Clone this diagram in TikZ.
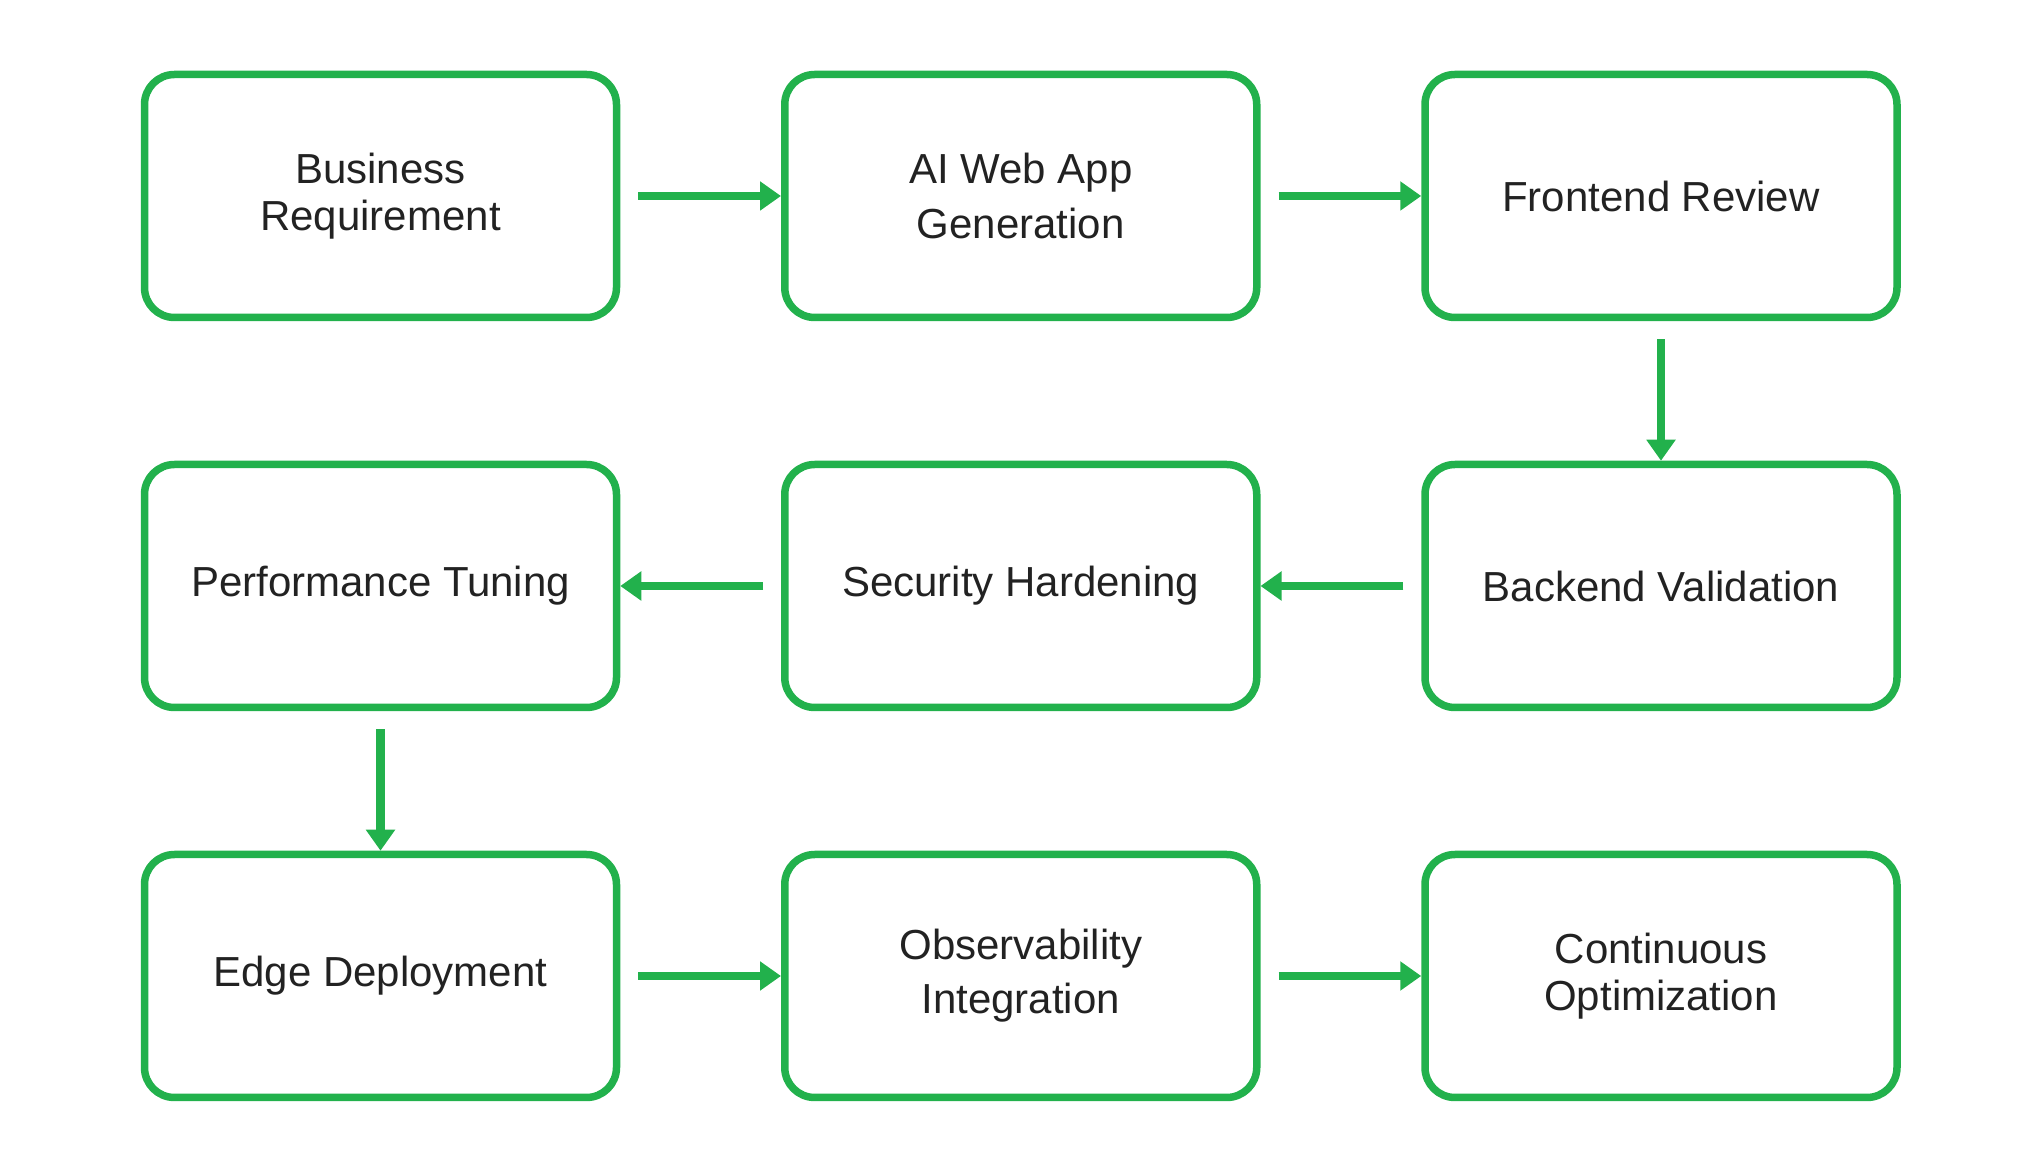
\documentclass[tikz,border=0pt]{standalone}
\usepackage{fontspec}
\setmainfont{Liberation Sans}
\usepackage{xcolor}
\usepackage{tikz}
\usetikzlibrary{arrows.meta, positioning}

\definecolor{flowgreen}{RGB}{34,177,76}
\definecolor{textgray}{RGB}{34,34,34}

\begin{document}
\begin{tikzpicture}[
    node distance=2.79cm and 3.215cm,
    block/.style={rectangle, draw=flowgreen, line width=0.15cm, rounded corners=0.6cm, minimum width=9.44cm, minimum height=4.86cm, align=center, text=textgray, font=\fontsize{23.9}{26.5}\selectfont},
    spaced/.style={font=\fontsize{23.9}{30.8}\selectfont},
    arrow/.style={-{Triangle[length=0.42cm, width=0.56cm]}, line width=0.165cm, draw=flowgreen, shorten <=0.36cm}
]
\useasboundingbox (0,0) rectangle (40.8,23.4);

% Row 1 (left to right)
\node[block] (req) at (7.61,19.48) {Business\\Requirement};
\node[block, spaced, right=of req] (gen) {AI Web App\\Generation};
\node[block, right=of gen] (front) {Frontend Review};

% Row 2 (right to left)
\node[block, below=of front] (back) {Backend Validation};
\node[block, left=of back] (sec) {Security Hardening};
\node[block, left=of sec] (perf) {Performance Tuning};

% Row 3 (left to right)
\node[block, below=of perf] (edge) {Edge Deployment};
\node[block, spaced, right=of edge] (obs) {Observability\\Integration};
\node[block, right=of obs] (opt) {Continuous\\Optimization};

\draw[arrow] (req) -- (gen);
\draw[arrow] (gen) -- (front);
\draw[arrow] (front) -- (back);
\draw[arrow] (back) -- (sec);
\draw[arrow] (sec) -- (perf);
\draw[arrow] (perf) -- (edge);
\draw[arrow] (edge) -- (obs);
\draw[arrow] (obs) -- (opt);
\end{tikzpicture}
\end{document}
